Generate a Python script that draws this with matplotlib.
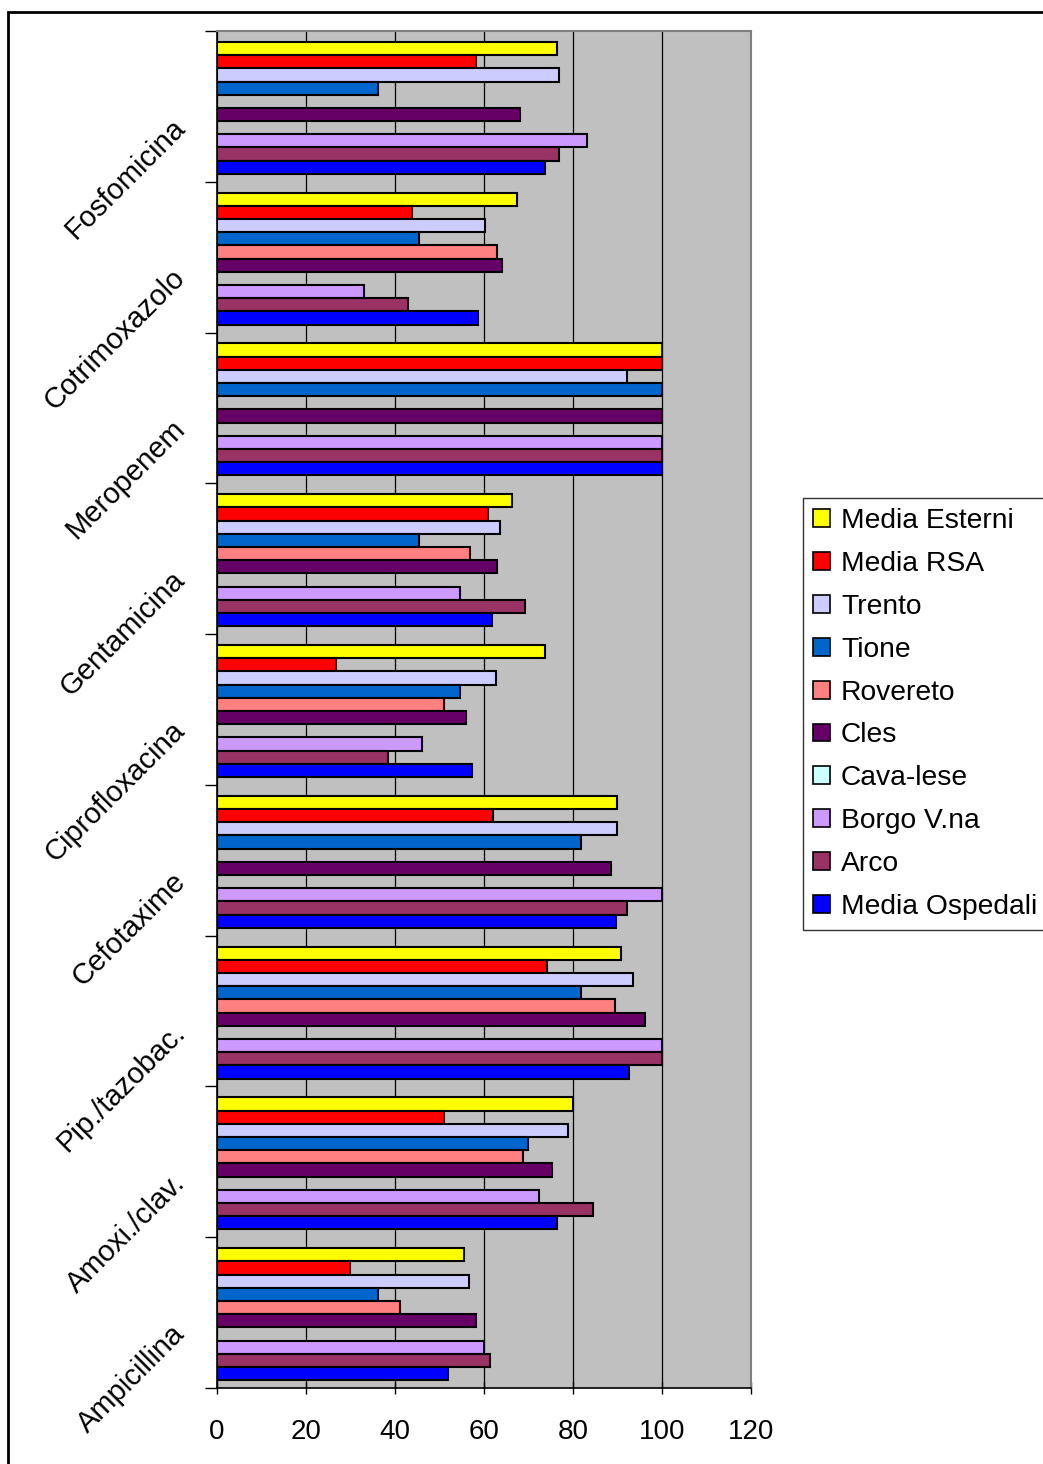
import numpy as np
import matplotlib.pyplot as plt
from matplotlib.patches import Patch, Rectangle

plt.rcParams["font.family"] = ["Liberation Sans", "DejaVu Sans"]

# categories, bottom to top as drawn
categories = ["Ampicillina", "Amoxi./clav.", "Pip./tazobac.", "Cefotaxime",
              "Ciprofloxacina", "Gentamicina", "Meropenem", "Cotrimoxazolo",
              "Fosfomicina"]

series_names = ["Media Esterni", "Media RSA", "Trento", "Tione", "Rovereto",
                "Cles", "Cava-lese", "Borgo V.na", "Arco", "Media Ospedali"]

colors = ["#FFFF00", "#FF0000", "#CCCCFF", "#0066CC", "#FF8080",
          "#660066", "#CCFFFF", "#CC99FF", "#993366", "#0000FF"]

nan = np.nan
media_esterni = [55.4, 80.0, 90.8, 89.9, 73.8, 66.2, 100, 67.4, 76.4]
media_rsa = [29.8, 50.9, 74.2, 62.1, 26.8, 60.8, 100, 43.8, 58.1]
trento = [56.7, 78.8, 93.5, 89.9, 62.6, 63.5, 92.1, 60.3, 76.9]
tione = [36.2, 69.8, 81.8, 81.8, 54.6, 45.5, 100, 45.5, 36.2]
rovereto = [41.2, 68.8, 89.5, nan, 50.9, 56.8, nan, 63.0, nan]
cles = [58.2, 75.3, 96.2, 88.6, 56.0, 63.0, 100, 64.0, 68.1]
cava_lese = [nan] * 9
borgo = [59.9, 72.4, 100, 100, 46.0, 54.6, 100, 33.0, 83.2]
arco = [61.4, 84.6, 100, 92.2, 38.4, 69.3, 100, 42.9, 76.9]
media_ospedali = [51.8, 76.5, 92.6, 89.6, 57.3, 61.8, 100, 58.6, 73.8]

all_series = [media_esterni, media_rsa, trento, tione, rovereto,
              cles, cava_lese, borgo, arco, media_ospedali]

fig = plt.figure(figsize=(10.43, 14.64), dpi=100)
ax = fig.add_axes([217 / 1043, 1 - 1388 / 1464, 534 / 1043, 1357 / 1464])

n = len(all_series)
bar_h = 0.0875
y = np.arange(len(categories))
for i, (vals, col) in enumerate(zip(all_series, colors)):
    # first series at the top of each group
    pos = y - 0.01 + (n - 1) / 2 * bar_h - i * bar_h
    ax.barh(pos, vals, height=bar_h, color=col, edgecolor="black",
            linewidth=1.5, zorder=3)

ax.set_facecolor("#C0C0C0")
ax.set_xlim(0, 120)
ax.set_ylim(-0.5, len(categories) - 0.5)
ax.set_xticks(np.arange(0, 121, 20))
ax.tick_params(axis="x", labelsize=20, length=8, width=1, direction="inout", pad=18)
ax.grid(axis="x", color="black", linewidth=0.9, zorder=1)

ax.set_yticks(np.arange(-0.5, len(categories), 1.0))
ax.set_yticklabels([])
ax.tick_params(axis="y", length=9, width=1, direction="out")
for k, name in enumerate(categories):
    ax.annotate(name, xy=(0, k), xycoords=("axes fraction", "data"),
                xytext=(-26, -12), textcoords="offset points",
                rotation=45, rotation_mode="anchor", ha="right", va="center",
                fontsize=21)

for side in ["top", "right"]:
    ax.spines[side].set_color("#808080")
    ax.spines[side].set_linewidth(1.5)
for side in ["left", "bottom"]:
    ax.spines[side].set_color("black")
    ax.spines[side].set_linewidth(1.2)

handles = [Patch(facecolor=c, edgecolor="black", linewidth=1.2) for c in colors]
leg = fig.legend(handles, series_names, loc="upper left",
                 bbox_to_anchor=(803 / 1043, 1 - 498 / 1464),
                 fontsize=20.3, frameon=True, fancybox=False,
                 handlelength=0.6, handleheight=0.6, handletextpad=0.4,
                 labelspacing=0.6, borderpad=0.35, borderaxespad=0)
leg.get_frame().set_edgecolor("black")
leg.get_frame().set_linewidth(1.0)

# outer chart border
fig.patches.append(Rectangle((8 / 1043, -0.05), 1.1, 1 - 12 / 1464 + 0.05,
                             transform=fig.transFigure, fill=False,
                             edgecolor="black", linewidth=2))

fig.savefig("out.png", dpi=100)
